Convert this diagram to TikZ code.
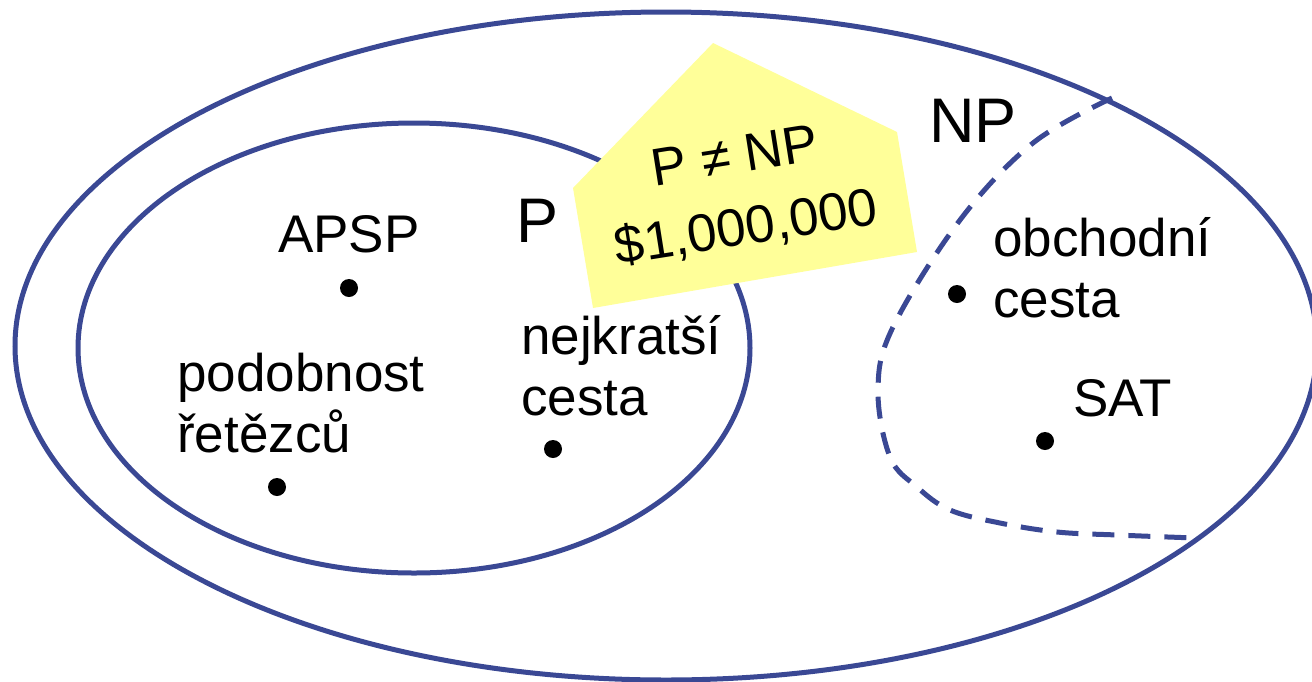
\documentclass[tikz,border=0pt]{standalone}
\usepackage{fontspec}
\setmainfont{Liberation Sans}
\definecolor{setblue}{RGB}{58,72,148}
\definecolor{notefill}{RGB}{255,255,153}
\begin{document}
\begin{tikzpicture}[x=1pt,y=-1pt,
  setline/.style={draw=setblue,line width=5pt},
  dot/.style={circle,fill=black,inner sep=0pt,minimum size=18pt},
  lbl/.style={inner sep=0pt,font=\fontsize{53}{61}\selectfont,align=left,anchor=base west},
  biglbl/.style={inner sep=0pt,anchor=base west,font=\fontsize{63}{70}\selectfont}]
\useasboundingbox (0,0) rectangle (1312,681);
% NP (outer) and P (inner) sets
\draw[setline] (666,346) ellipse [x radius=651, y radius=334];
\draw[setline] (414,348) ellipse [x radius=336, y radius=225];
% NP-complete region
\draw[setline,dash pattern=on 22pt off 14pt] plot[smooth,tension=0.6] coordinates {
  (1112,98) (1033,143) (960,220) (893,327) (878,390) (890,457)
  (917,487) (950,510) (1000,523) (1057,532) (1117,535) (1195,538)};
% prize note
\fill[notefill] (713,43) -- (897,132) -- (917,252) -- (593,308) -- (573,188) -- cycle;
\node[inner sep=0pt,rotate=9,align=center,font=\fontsize{53}{72}\selectfont] (prize) at (741,194) {P ≠ NP\\\$1,000,000};
% labels
\node[biglbl] (Plbl) at (516,242) {P};
\node[biglbl] (NPlbl) at (929,142) {NP};
\node[lbl] (apsp) at (278,252) {APSP};
\node[lbl] (sp) at (521,415) {nejkratší\\cesta};
\node[lbl] (ss) at (177,452) {podobnost\\řetězců};
\node[lbl] (tsp) at (993,317) {obchodní\\cesta};
\node[lbl] (sat) at (1073,416) {SAT};
% problem points
\node[dot] (apspdot) at (349,288) {};
\node[dot] (spdot) at (553,449) {};
\node[dot] (ssdot) at (277,487) {};
\node[dot] (tspdot) at (957,294) {};
\node[dot] (satdot) at (1045,441) {};
\end{tikzpicture}
\end{document}
